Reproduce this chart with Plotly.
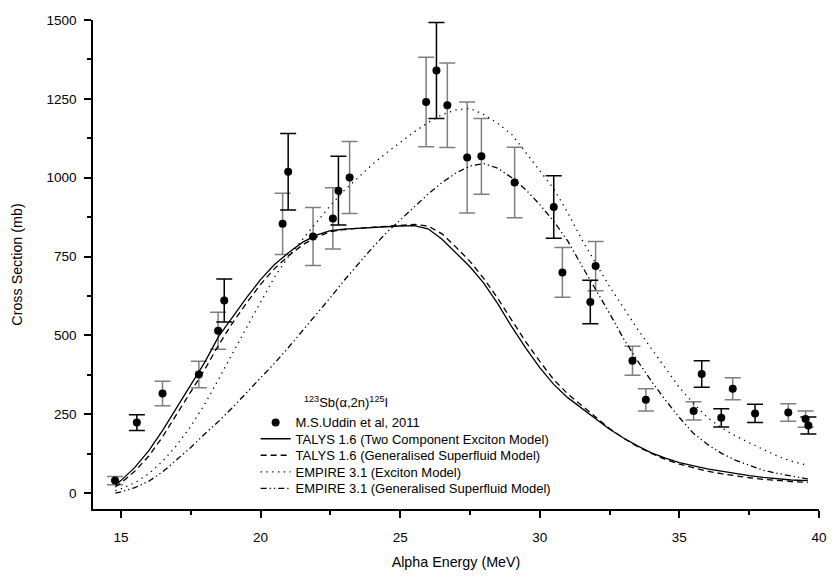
import plotly.graph_objects as go

# ---------------- data ----------------
x_exp = [14.79, 15.57, 16.49, 17.79, 18.48, 18.70, 20.79, 20.99, 21.88, 22.59, 22.79, 23.19,
         25.93, 26.30, 26.69, 27.40, 27.91, 29.10, 30.50, 30.81, 31.81, 32.00, 33.32, 33.80,
         35.51, 35.80, 36.50, 36.91, 37.71, 38.90, 39.52, 39.62]
y_exp = [40, 224, 316, 376, 515, 611, 854, 1019, 814, 871, 959, 1001,
         1240, 1340, 1230, 1064, 1068, 985, 907, 700, 606, 720, 420, 296,
         261, 378, 239, 331, 253, 256, 235, 215]
err_exp = [13, 25, 39, 42, 59, 68, 97, 121, 92, 97, 109, 114,
           142, 152, 134, 176, 120, 112, 99, 79, 69, 78, 46, 35,
           29, 42, 29, 35, 29, 28, 26, 27]
err_group = ['g', 'k', 'g', 'g', 'g', 'k', 'g', 'k', 'g', 'g', 'k', 'g',
             'g', 'k', 'g', 'g', 'g', 'g', 'k', 'g', 'k', 'g', 'g', 'g',
             'g', 'k', 'k', 'g', 'k', 'g', 'g', 'k']

energy = [14.8, 15.0, 15.5, 16.0, 16.5, 17.0, 17.5, 18.0, 18.5, 19.0, 19.5, 20.0, 20.5,
          21.0, 21.5, 22.0, 22.5, 23.0, 23.5, 24.0, 24.5, 25.0, 25.5, 26.0, 26.5, 27.0,
          27.5, 28.0, 28.5, 29.0, 29.5, 30.0, 30.5, 31.0, 31.5, 32.0, 32.5, 33.0, 33.5,
          34.0, 34.5, 35.0, 35.5, 36.0, 36.5, 37.0, 37.5, 38.0, 38.5, 39.0, 39.6]
talys_tcem = [25, 40, 82, 135, 200, 272, 340, 415, 497, 560, 620, 677, 725,
              762, 795, 818, 832, 837, 840, 843, 845, 847, 848, 838, 805, 762,
              718, 665, 600, 527, 460, 398, 345, 303, 270, 234, 203, 175, 150,
              128, 111, 97, 86, 77, 70, 62, 56, 50, 45, 42, 40]
talys_gsm = [20, 32, 70, 118, 180, 250, 318, 392, 470, 540, 603, 662, 712,
             752, 787, 812, 829, 836, 840, 843, 846, 849, 852, 847, 822, 780,
             735, 680, 617, 548, 480, 418, 360, 315, 278, 240, 205, 174, 148,
             126, 107, 92, 80, 70, 62, 55, 49, 44, 40, 37, 34]
empire_exc = [8, 14, 33, 62, 102, 152, 212, 282, 362, 445, 525, 605, 685,
              750, 805, 860, 912, 960, 1002, 1042, 1078, 1112, 1145, 1175, 1200, 1215,
              1220, 1200, 1172, 1137, 1080, 1020, 965, 890, 805, 730, 655, 588, 520,
              458, 395, 335, 285, 240, 208, 182, 160, 138, 118, 102, 88]
empire_gsm = [0, 4, 18, 38, 68, 105, 145, 188, 228, 272, 318, 365, 412,
              462, 514, 567, 620, 675, 728, 778, 825, 866, 908, 948, 985, 1015,
              1037, 1045, 1030, 1000, 962, 915, 862, 800, 722, 648, 570, 490, 420,
              355, 295, 240, 190, 155, 127, 105, 88, 73, 63, 54, 45]

x_ticks = [15, 20, 25, 30, 35, 40]
y_ticks = [0, 250, 500, 750, 1000, 1250, 1500]

FONT = "Liberation Sans, Arial, sans-serif"
LEG_FONT = dict(family=FONT, size=13, color='black')

fig = go.Figure()

# error bars, split by bar colour
for grp, col in (('g', '#7f7f7f'), ('k', '#000000')):
    idx = [i for i, g in enumerate(err_group) if g == grp]
    fig.add_trace(go.Scatter(
        x=[x_exp[i] for i in idx], y=[y_exp[i] for i in idx],
        mode='markers', marker=dict(size=8, color='black', opacity=0),
        error_y=dict(type='data', array=[err_exp[i] for i in idx], symmetric=True,
                     color=col, thickness=1.5, width=8),
        showlegend=False, hoverinfo='skip'))

fig.add_trace(go.Scatter(x=x_exp, y=y_exp, mode='markers', name='M.S.Uddin et al, 2011',
                         marker=dict(size=8, color='black'), legend='legend'))

fig.add_trace(go.Scatter(x=energy, y=talys_tcem, mode='lines',
                         name='TALYS 1.6 (Two Component Exciton Model)',
                         line=dict(color='black', width=1.3), legend='legend2'))
fig.add_trace(go.Scatter(x=energy, y=talys_gsm, mode='lines',
                         name='TALYS 1.6 (Generalised Superfluid Model)',
                         line=dict(color='black', width=1.3, dash='6px,4px'), legend='legend3'))
fig.add_trace(go.Scatter(x=energy, y=empire_exc, mode='lines',
                         name='EMPIRE 3.1 (Exciton Model)',
                         line=dict(color='black', width=1.3, dash='1.3px,4.5px'), legend='legend4'))
fig.add_trace(go.Scatter(x=energy, y=empire_gsm, mode='lines',
                         name='EMPIRE 3.1 (Generalised Superfluid Model)',
                         line=dict(color='black', width=1.3, dash='6px,3px,1.3px,3px,1.3px,3px'),
                         legend='legend5'))

fig.add_annotation(text='<sup>123</sup>Sb(α,2n)<sup>125</sup>I', xref='paper', yref='paper',
                   x=0.348, y=0.219, showarrow=False, xanchor='center', yanchor='middle',
                   font=dict(family=FONT, size=13, color='black'))

axis_common = dict(showline=True, linecolor='black', linewidth=1.5, showgrid=False,
                   zeroline=False, ticks='outside', ticklen=7, tickwidth=1.5, tickcolor='black',
                   tickfont=dict(family=FONT, size=13.5, color='black'),
                   ticklabeloverflow='allow', mirror=False)

def leg(y):
    return dict(x=0.224, y=y, xanchor='left', yanchor='middle',
                bgcolor='rgba(0,0,0,0)', borderwidth=0, font=LEG_FONT)

# the page keeps an 8px body margin: figure sits at (8, 8) and must fit without scrollbars
fig.update_layout(
    width=824, height=565,
    margin=dict(l=85, r=7, t=5, b=61),
    plot_bgcolor='white', paper_bgcolor='white',
    font=dict(family=FONT, color='black'),
    xaxis=dict(range=[14, 40], tickvals=x_ticks, ticklabelstandoff=8,
               minor=dict(dtick=2.5, tick0=0, ticks='outside', ticklen=4, tickwidth=1.5,
                          tickcolor='black'),
               title=dict(text='Alpha Energy (MeV)', font=dict(family=FONT, size=14.3),
                          standoff=13),
               **axis_common),
    yaxis=dict(range=[-50, 1500], tickvals=y_ticks, ticklabelstandoff=5,
               minor=dict(dtick=125, tick0=0, ticks='outside', ticklen=4, tickwidth=1.5,
                          tickcolor='black'),
               title=dict(text='Cross Section (mb)', font=dict(family=FONT, size=14.3),
                          standoff=20),
               **axis_common),
    legend=leg(0.1770),
    legend2=leg(0.1436),
    legend3=leg(0.1098),
    legend4=leg(0.0760),
    legend5=leg(0.0421),
    showlegend=True,
)

fig.write_html("out.html")
